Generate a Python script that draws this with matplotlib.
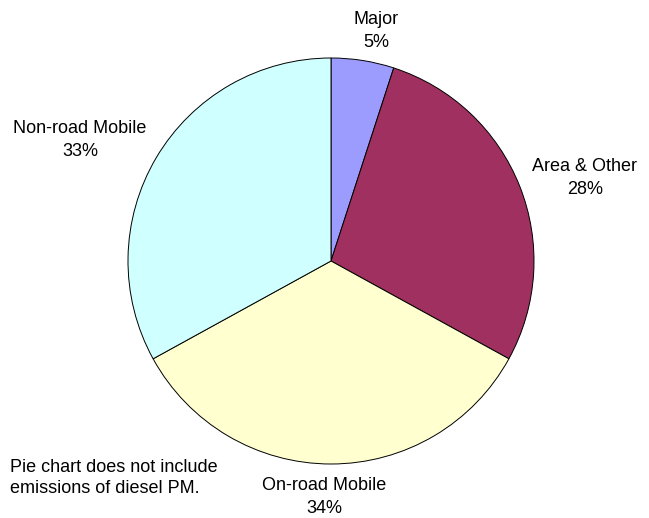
import matplotlib.pyplot as plt

plt.rcParams["font.family"] = ["Liberation Sans", "DejaVu Sans"]

# slices, clockwise from 12 o'clock
labels = ["Major", "Area & Other", "On-road Mobile", "Non-road Mobile"]
shares = [5, 28, 34, 33]
colors = ["#9C9CFF", "#A0305F", "#FFFFD0", "#D0FFFF"]

# label block centres in pixels (x from left, y from top)
label_px = [(376, 31), (585, 178), (324, 497), (80, 140)]

W, H = 649, 518
cx, cy, r = 331, 261, 203  # pie centre / radius in pixels

fig = plt.figure(figsize=(W / 100, H / 100), dpi=100)
ax = fig.add_axes([0, 0, 1, 1])

ax.pie(
    shares,
    colors=colors,
    startangle=90,
    counterclock=False,
    radius=1,
    frame=True,
    wedgeprops=dict(edgecolor="black", linewidth=0.7),
)
ax.set_xlim(-cx / r, (W - cx) / r)
ax.set_ylim(-(H - cy) / r, cy / r)
ax.set_aspect("auto")
ax.axis("off")


def to_data(px, py):
    return (px - cx) / r, (cy - py) / r


for name, val, (px, py) in zip(labels, shares, label_px):
    x, y = to_data(px, py)
    ax.text(x, y, f"{name}\n{val}%", ha="center", va="center",
            fontsize=13, linespacing=1.45)

nx, ny = to_data(10, 478)
ax.text(nx, ny, "Pie chart does not include\nemissions of diesel PM.",
        ha="left", va="center", fontsize=13, linespacing=1.35)

fig.savefig("out.png", dpi=100)
